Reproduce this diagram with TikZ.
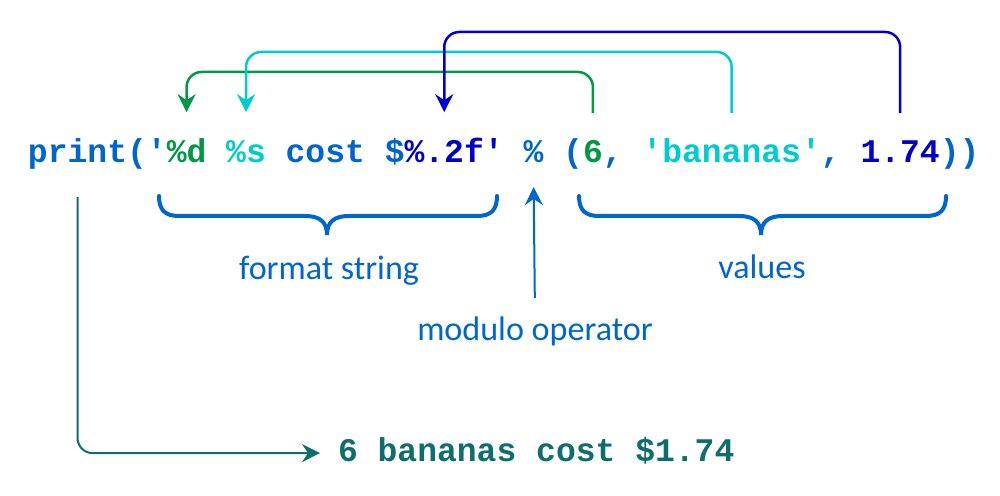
\documentclass[tikz,border=0pt]{standalone}
\usepackage{fontspec}
\newfontfamily\codefont{Liberation Mono}
\newfontfamily\lblfont{Carlito}
\usetikzlibrary{positioning,arrows.meta}

\definecolor{codeblue}{HTML}{0066CC}
\definecolor{fmtgreen}{HTML}{009944}
\definecolor{fmtcyan}{HTML}{00CCCC}
\definecolor{fmtnavy}{HTML}{0000CC}
\definecolor{resteal}{HTML}{0E6E6E}

\tikzset{
	code/.style={inner sep=0pt, outer sep=0pt, text height=13pt, text depth=4pt,
		font=\codefont\bfseries\fontsize{18.8}{22}\selectfont, text=codeblue},
	lbl/.style={inner sep=0pt, font=\lblfont\fontsize{19.4}{23}\selectfont, text=codeblue},
	link/.style={line width=0.05cm, rounded corners=0.3cm,
		-{Stealth[length=0.36cm, width=0.36cm, inset=0.12cm]},
		shorten <=0.54cm, shorten >=0.56cm},
	brace/.style={line width=0.08cm, codeblue, line cap=round},
}

\begin{document}
\begin{tikzpicture}[x=0.02cm, y=-0.02cm]
	\fill[white] (0,0) rectangle (1000,496);
	\useasboundingbox (0,0) rectangle (1000,496);

	\node[code, anchor=base west]				(prt)		at (28,163) {print};
	\node[code, right=0pt of prt]				(opq)		{('};
	\node[code, right=0pt of opq, text=fmtgreen]	(fmtd)		{\%d};
	\node[code, right=11.28pt of fmtd, text=fmtcyan]	(fmts)	{\%s};
	\node[code, right=11.28pt of fmts]			(cost)		{cost \$};
	\node[code, right=0pt of cost, text=fmtnavy]	(fmtf)		{\%.2f};
	\node[code, right=0pt of fmtf, text=fmtnavy]	(fmtq)		{'};
	\node[code, right=11.28pt of fmtq]			(modop)		{\%};
	\node[code, right=11.28pt of modop]			(lpar)		{(};
	\node[code, right=0pt of lpar, text=fmtgreen]	(valint)	{6};
	\node[code, right=0pt of valint]			(sepa)		{,};
	\node[code, right=11.28pt of sepa, text=fmtcyan]	(valstr)	{'bananas'};
	\node[code, right=0pt of valstr]			(sepb)		{,};
	\node[code, right=11.28pt of sepb, text=fmtnavy]	(valflt)	{1.74};
	\node[code, right=0pt of valflt]			(rpar)		{))};

	\node[code, anchor=base west, text=resteal]	(result)	at (338,461) {6 bananas cost \$1.74};

	\node[lbl, anchor=base]	(fmtlbl)	at (329,280) {format string};
	\node[lbl, anchor=base]	(vallbl)	at (762,279) {values};
	\node[lbl, anchor=base]	(modlbl)	at (535,340) {modulo operator};

	\coordinate (lvlg) at (0,72);
	\coordinate (lvlc) at (0,52);
	\coordinate (lvlb) at (0,32);

	\draw[link, fmtgreen]	(valint.north) -- (valint.north |- lvlg) -| (fmtd.north);
	\draw[link, fmtcyan]	(valstr.north) -- (valstr.north |- lvlc) -| (fmts.north);
	\draw[link, fmtnavy]	(valflt.north) -- (valflt.north |- lvlb) -| (fmtf.north);

	\draw[link, codeblue, line width=0.04cm, shorten <=0.36cm, shorten >=0.34cm]
		(modlbl.north) -- (modop.south);
	\draw[link, resteal, line width=0.04cm, shorten <=0.54cm, shorten >=0.36cm]
		(prt.south) |- (result.west);

	\draw[brace] (159,196) .. controls (159,210) and (165,216) .. (179,216) -- (305,216)
		.. controls (320,216) and (327,222) .. (327,235)
		.. controls (327,222) and (334,216) .. (349,216) -- (477,216)
		.. controls (491,216) and (497,210) .. (497,196);
	\draw[brace] (579,196) .. controls (579,210) and (585,216) .. (599,216) -- (739,216)
		.. controls (754,216) and (761,222) .. (761,235)
		.. controls (761,222) and (768,216) .. (783,216) -- (926,216)
		.. controls (940,216) and (946,210) .. (946,196);
\end{tikzpicture}
\end{document}
